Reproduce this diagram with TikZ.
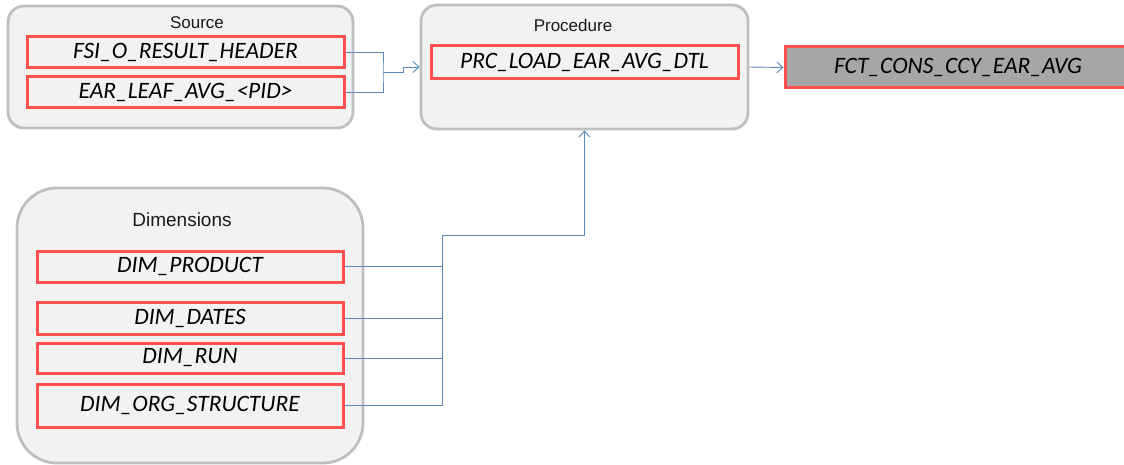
\documentclass[tikz,border=0pt]{standalone}
\usepackage{fontspec}
\setmainfont{Carlito}
\setsansfont{Liberation Sans}
\usetikzlibrary{arrows.meta}

\definecolor{grpfill}{HTML}{F2F2F2}
\definecolor{grpline}{HTML}{BFBFBF}
\definecolor{tblred}{HTML}{FF5050}
\definecolor{linkblue}{HTML}{5B87BD}
\definecolor{fctfill}{HTML}{A6A6A6}

\tikzset{
  grp/.style={draw=grpline, fill=grpfill, line width=2.8pt, rounded corners=16pt, inner sep=0pt},
  grptitle/.style={font=\sffamily\fontsize{17}{17}\selectfont, text=black!90},
  tbl/.style={draw=tblred, fill=grpfill, line width=3pt, inner sep=0pt,
    font=\itshape\fontsize{23.5}{23.5}\selectfont, text=black},
  link/.style={draw=linkblue, line width=0.9pt},
  flow/.style={link, -{Straight Barb[length=6pt,width=11pt]}},
}

\begin{document}
\begin{tikzpicture}[x=1pt, y=-1pt]
  \useasboundingbox (0,0) rectangle (1124,465);

  % groups
  \node[grp, minimum width=345pt, minimum height=122pt] (src) at (180.5,67) {};
  \node[grp, minimum width=327pt, minimum height=124pt] (proc) at (584.5,67) {};
  \node[grp, rounded corners=40pt, minimum width=346pt, minimum height=275pt] (dims) at (190,325.5) {};

  \node[grptitle] (srctitle) at (197,23) {Source};
  \node[grptitle] (proctitle) at (573,25) {Procedure};
  \node[grptitle, font=\sffamily\fontsize{19}{19}\selectfont] (dimstitle) at (182,220) {Dimensions};

  % tables
  \node[tbl, minimum width=317pt, minimum height=31pt] (fsi) at (185.5,52.5) {FSI\_O\_RESULT\_HEADER};
  \node[tbl, minimum width=317pt, minimum height=31pt] (ear) at (185.5,92.5) {EAR\_LEAF\_AVG\_<PID>};
  \node[tbl, minimum width=307pt, minimum height=33pt] (prc) at (584.5,62.5) {PRC\_LOAD\_EAR\_AVG\_DTL};
  \node[tbl, fill=fctfill, minimum width=346pt, minimum height=41pt, text width=346pt, align=center] (fct) at (958,67.5) {FCT\_CONS\_CCY\_EAR\_AVG};

  \node[tbl, minimum width=306pt, minimum height=31pt] (dprod) at (190,266.5) {DIM\_PRODUCT};
  \node[tbl, minimum width=306pt, minimum height=32pt] (ddates) at (190,318) {DIM\_DATES};
  \node[tbl, minimum width=306pt, minimum height=30pt] (drun) at (190,358) {DIM\_RUN};
  \node[tbl, minimum width=306pt, minimum height=43pt] (dorg) at (190,405.5) {DIM\_ORG\_STRUCTURE};

  % connectors
  \coordinate (srcjoin) at (383,72.5);
  \coordinate (dimjoin) at (442,235);

  \draw[link] (fsi.east) -| (srcjoin) |- (ear.east);
  \draw[flow] (srcjoin) -- ++(20,0) |- (proc.west);
  \draw[flow] (proc.east) -- (fct.west);

  \draw[link] (dprod.east) -| (dimjoin);
  \draw[link] (ddates.east) -| (dimjoin);
  \draw[link] (drun.east) -| (dimjoin);
  \draw[link] (dorg.east) -| (dimjoin);
  \draw[flow] (dimjoin) -| (proc.south);
\end{tikzpicture}
\end{document}
